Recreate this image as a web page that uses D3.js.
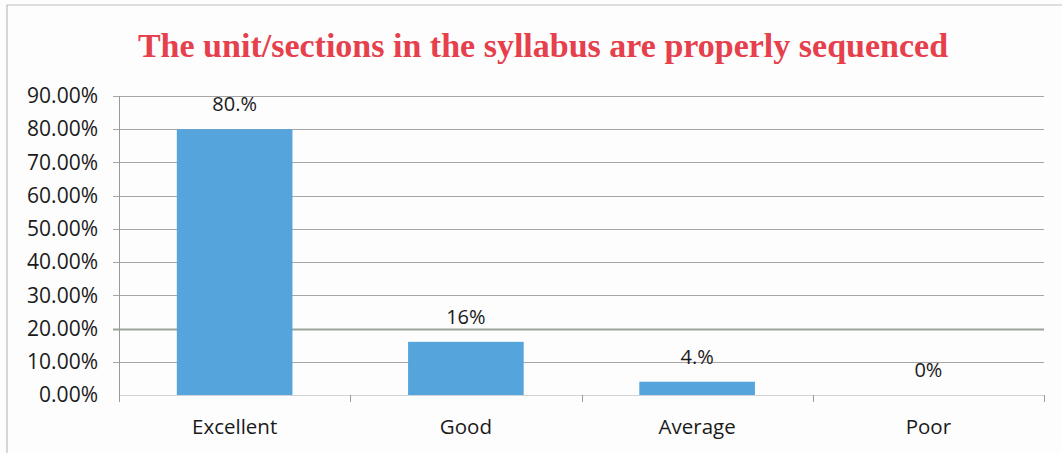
<!DOCTYPE html>
<html>
<head>
<meta charset="utf-8">
<script src="https://cdn.jsdelivr.net/npm/d3@7"></script>
<style>
  body { margin: 0; background: #fdfdfd; }
  svg { display: block; }
</style>
</head>
<body>
<div id="wrapper"></div>
<script>
const categories = ['Excellent', 'Good', 'Average', 'Poor'];
const values = [0.80, 0.16, 0.04, 0];
const valueLabels = ['80.%', '16%', '4.%', '0%'];
const yTicks = [0, 0.1, 0.2, 0.3, 0.4, 0.5, 0.6, 0.7, 0.8, 0.9];
const title = 'The unit/sections in the syllabus are properly sequenced';

function drawChart() {
  const width = 1062;
  const height = 453;
  const margin = { top: 96, right: 18, bottom: 58, left: 119 };

  const svg = d3.select('#wrapper').append('svg')
    .attr('width', width)
    .attr('height', height);

  // frame (only left and top edges show in the scan)
  svg.append('path')
    .attr('d', `M7,${height} V5 H${width}`)
    .attr('fill', 'none')
    .attr('stroke', '#bdbdbd')
    .attr('stroke-width', 1.2);

  const x = d3.scaleBand()
    .domain(categories)
    .range([margin.left, width - margin.right])
    .paddingInner(0.5)
    .paddingOuter(0.25);

  const y = d3.scaleLinear()
    .domain([0, 0.9])
    .range([height - margin.bottom, margin.top]);

  // gridlines
  svg.append('g')
    .selectAll('line')
    .data(yTicks.filter(d => d > 0))
    .join('line')
    .attr('x1', margin.left - 6)
    .attr('x2', width - margin.right)
    .attr('y1', d => Math.round(y(d)) + 0.5)
    .attr('y2', d => Math.round(y(d)) + 0.5)
    .attr('stroke', d => d === 0.2 ? '#9aa49a' : '#a6a6a6')
    .attr('stroke-width', d => d === 0.2 ? 2 : 1);

  // y axis
  const yAxis = d3.axisLeft(y)
    .tickValues(yTicks)
    .tickFormat(d3.format('.2%'))
    .tickSize(0)
    .tickPadding(21);

  const gy = svg.append('g')
    .attr('transform', `translate(${margin.left},0)`)
    .call(yAxis);
  gy.select('.domain')
    .attr('stroke', '#9a9a9a')
    .attr('d', `M0.5,${margin.top}V${height - margin.bottom + 6}`);
  gy.selectAll('text')
    .attr('font-family', 'Open Sans, sans-serif')
    .attr('font-size', 21)
    .attr('fill', '#1a1a1a');

  // x axis
  const step = x.step();
  const xTickPos = d3.range(categories.length + 1).map(i => margin.left + i * step);
  const gx = svg.append('g');
  gx.append('line')
    .attr('x1', margin.left)
    .attr('x2', width - margin.right)
    .attr('y1', y(0) + 0.5)
    .attr('y2', y(0) + 0.5)
    .attr('stroke', '#d0d4d8');
  gx.selectAll('.tick')
    .data(xTickPos)
    .join('line')
    .attr('class', 'tick')
    .attr('x1', d => Math.round(d) + 0.5)
    .attr('x2', d => Math.round(d) + 0.5)
    .attr('y1', y(0))
    .attr('y2', y(0) + 7)
    .attr('stroke', '#9a9a9a');
  gx.selectAll('text')
    .data(categories)
    .join('text')
    .attr('x', d => x(d) + x.bandwidth() / 2)
    .attr('y', y(0) + 39)
    .attr('text-anchor', 'middle')
    .attr('font-family', 'Open Sans, sans-serif')
    .attr('font-size', 20.5)
    .attr('fill', '#1a1a1a')
    .text(d => d);

  // bars
  svg.append('g')
    .selectAll('rect')
    .data(values)
    .join('rect')
    .attr('x', (d, i) => x(categories[i]))
    .attr('y', d => y(d))
    .attr('width', x.bandwidth())
    .attr('height', d => y(0) - y(d))
    .attr('fill', '#55a5dc');

  // value labels
  svg.append('g')
    .selectAll('text')
    .data(values)
    .join('text')
    .attr('x', (d, i) => x(categories[i]) + x.bandwidth() / 2)
    .attr('y', d => y(d) - 18)
    .attr('text-anchor', 'middle')
    .attr('font-family', 'Open Sans, sans-serif')
    .attr('font-size', 20)
    .attr('fill', '#1a1a1a')
    .text((d, i) => valueLabels[i]);

  // title
  svg.append('text')
    .attr('x', 543)
    .attr('y', 57)
    .attr('text-anchor', 'middle')
    .attr('font-family', 'Liberation Serif, Times New Roman, serif')
    .attr('font-weight', 'bold')
    .attr('font-size', 34)
    .attr('fill', '#e5404c')
    .text(title);
}

drawChart();
</script>
</body>
</html>
